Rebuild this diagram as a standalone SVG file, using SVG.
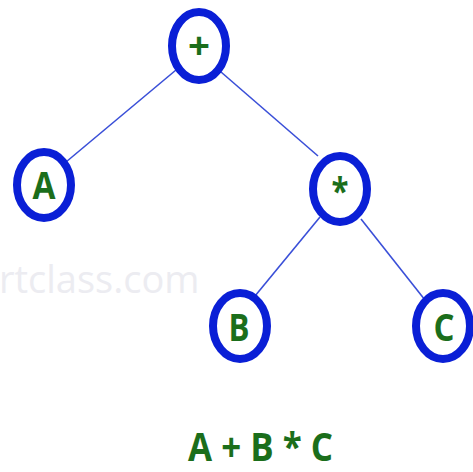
<svg xmlns="http://www.w3.org/2000/svg" width="473" height="472" viewBox="0 0 473 472">
<style>
.node ellipse{fill:#fff;stroke:#0a1fd6;stroke-width:8}
.node text{font-family:"Open Sans","Liberation Sans",sans-serif;font-weight:bold;font-size:37px;fill:#1b6e1b;text-anchor:middle}
.edge{stroke:#3a4fd8;stroke-width:1.6;fill:none}
.wm{font-family:"Open Sans","Liberation Sans",sans-serif;font-size:38px;fill:#ececf1}
.expr{font-family:"Open Sans","Liberation Sans",sans-serif;font-weight:bold;font-size:40px;fill:#1b6e1b}
</style>
<rect width="473" height="472" fill="#fff"/>
<text class="wm" x="-1" y="293">rtclass.com</text>
<g id="edges">
<line class="edge" x1="176" y1="70" x2="66" y2="162"/>
<line class="edge" x1="221" y1="72" x2="318" y2="156"/>
<line class="edge" x1="320" y1="217" x2="255" y2="296"/>
<line class="edge" x1="361" y1="219" x2="425" y2="300"/>
</g>
<g id="n-plus" class="node"><ellipse cx="199" cy="46" rx="27" ry="34"/><text x="199" y="59" textLength="22" lengthAdjust="spacingAndGlyphs">+</text></g>
<g id="n-A" class="node"><ellipse cx="44" cy="185" rx="27" ry="33"/><text x="44" y="199" textLength="23" lengthAdjust="spacingAndGlyphs">A</text></g>
<g id="n-star" class="node"><ellipse cx="340" cy="189" rx="27" ry="33"/><text x="340" y="205" textLength="17" lengthAdjust="spacingAndGlyphs">*</text></g>
<g id="n-B" class="node"><ellipse cx="240" cy="326" rx="27" ry="33"/><text x="239" y="341" textLength="21" lengthAdjust="spacingAndGlyphs">B</text></g>
<g id="n-C" class="node"><ellipse cx="443" cy="326" rx="27" ry="33"/><text x="444" y="341" textLength="21" lengthAdjust="spacingAndGlyphs">C</text></g>
<text class="expr" x="188" y="461" textLength="145" lengthAdjust="spacingAndGlyphs">A + B * C</text>
</svg>
